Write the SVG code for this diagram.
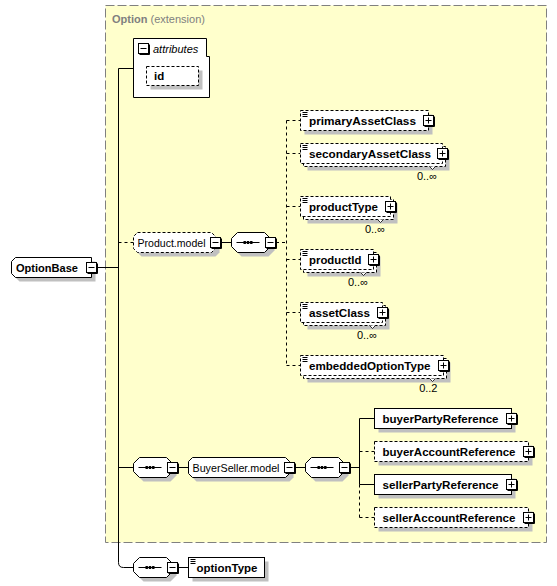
<svg xmlns="http://www.w3.org/2000/svg" xmlns:xlink="http://www.w3.org/1999/xlink" width="557" height="586" viewBox="0 0 557 586">
<style>
.sh{fill:#c0c0c0;stroke:none}
.box{fill:#fff;stroke:#000;stroke-width:1}
.dbox{fill:#fff;stroke:#000;stroke-width:1;stroke-dasharray:3,2}
.ln{fill:none;stroke:#000;stroke-width:1}
.dln{fill:none;stroke:#000;stroke-width:1;stroke-dasharray:3,3}
.b{font-family:"Liberation Sans",Arial,sans-serif;font-weight:bold;font-size:11.5px;fill:#000}
.r{font-family:"Liberation Sans",Arial,sans-serif;font-size:10.5px;fill:#000}
.occ{font-family:"Liberation Sans",Arial,sans-serif;font-size:11px;fill:#000;text-anchor:end}
</style>
<defs>
<g id="minus"><rect x="-5" y="-5" width="10" height="10" fill="#fff" stroke="#000"/><path d="M-4,6H6V-4" stroke="#000" fill="none"/><path d="M-3,0H3" stroke="#000"/></g>
<g id="plus"><rect x="-5" y="-5" width="10" height="10" fill="#fff" stroke="#000"/><path d="M-4,6H6V-4" stroke="#000" fill="none"/><path d="M-3,0H3M0,-3V3" stroke="#000"/></g>
<g id="seqicon"><path d="M0,0H23" stroke="#000"/><rect x="7" y="-1.5" width="2.4" height="3" fill="#000"/><rect x="10.3" y="-1.5" width="2.4" height="3" fill="#000"/><rect x="13.6" y="-1.5" width="2.4" height="3" fill="#000"/></g>
<path id="doc" d="M0,0.5H5M0,2.5H5M0,4.5H5" stroke="#000" fill="none"/>
<path id="tick" d="M-3,0L0,3L3,0" fill="#fff" stroke="#000" stroke-width="0.8"/>
</defs>

<g id="extension">
<rect x="105.5" y="5.5" width="441" height="537" fill="#ffffcc" stroke="#808080" stroke-dasharray="9,3"/>
<text x="112" y="23" font-family="Liberation Sans, Arial, sans-serif" font-size="11" fill="#808080"><tspan font-weight="bold">Option</tspan> (extension)</text>
</g>

<g id="connectors">
<path class="ln" d="M97,267.5H118.5"/>
<path class="ln" d="M133.5,68.5H118.5V562.5Q118.5,567.5 123.5,567.5H133.5"/>
<path class="dln" d="M118.5,242.5H133.5"/>
<path class="ln" d="M118.5,467.5H133.5"/>
<path class="ln" d="M221,242.5H231.5"/>
<path class="dln" d="M276,242.5H286.5"/>
<path class="dln" d="M286.5,120.5V365.5"/>
<path class="dln" d="M286.5,120.5H300.5M286.5,153.5H300.5M286.5,206.5H300.5M286.5,259.5H300.5M286.5,312.5H300.5M286.5,365.5H300.5"/>
<path class="ln" d="M178,467.5H188.5M295,467.5H305.5M350,467.5H359.5"/>
<path class="ln" d="M359.5,418.5V484.5M359.5,418.5H374.5M359.5,484.5H374.5"/>
<path class="dln" d="M359.5,484.5V517.5M359.5,451.5H374.5M359.5,517.5H374.5"/>
<path class="ln" d="M178,567.5H188.5"/>
</g>

<g id="attributes">
<path d="M133.5,38.5H206.5V56.5H209.5V97.5H133.5Z" fill="#fff" stroke="#000"/>
<use xlink:href="#minus" x="143.5" y="48.5"/>
<text x="153" y="52.5" font-family="Liberation Sans, Arial, sans-serif" font-size="11" font-style="italic">attributes</text>
<rect class="sh" x="150.5" y="70.5" width="52" height="19"/>
<rect class="dbox" x="146.5" y="66.5" width="52" height="19"/>
<text class="b" x="154" y="80">id</text>
</g>

<g id="OptionBase">
<path class="sh" d="M19.5,261.5H95.5V281.5H19.5L15.5,277.5V265.5Z"/>
<path class="box" d="M15.5,257.5H91.5V277.5H15.5L11.5,273.5V261.5Z"/>
<text class="b" x="16" y="271.5" textLength="62" lengthAdjust="spacingAndGlyphs">OptionBase</text>
<use xlink:href="#minus" x="91.5" y="267.5"/>
</g>

<g id="Product.model">
<path class="sh" d="M141.5,236.5H215.5L219.5,240.5V252.5L215.5,256.5H141.5L137.5,252.5V240.5Z"/>
<path class="dbox" d="M137.5,232.5H211.5L215.5,236.5V248.5L211.5,252.5H137.5L133.5,248.5V236.5Z"/>
<text class="r" x="137.5" y="246.5" textLength="68" lengthAdjust="spacingAndGlyphs">Product.model</text>
<use xlink:href="#minus" x="215.5" y="242.5"/>
</g>

<g id="product-sequence">
<path class="sh" d="M241.5,236.5H268.5L274.5,242.5V250.5L268.5,256.5H241.5L235.5,250.5V242.5Z"/>
<path class="box" d="M237.5,232.5H264.5L270.5,238.5V246.5L264.5,252.5H237.5L231.5,246.5V238.5Z"/>
<use xlink:href="#seqicon" x="236.5" y="242.5"/>
<use xlink:href="#minus" x="270.5" y="242.5"/>
</g>

<g id="primaryAssetClass">
<rect class="sh" x="304.5" y="114.5" width="128" height="20"/>
<rect class="dbox" x="300.5" y="110.5" width="128" height="20"/>
<use xlink:href="#doc" x="302.5" y="112"/>
<text class="b" x="309" y="124.5" textLength="107" lengthAdjust="spacingAndGlyphs">primaryAssetClass</text>
<use xlink:href="#plus" x="428.5" y="120.5"/>
</g>

<g id="secondaryAssetClass">
<rect class="sh" x="307.5" y="150.5" width="142" height="20"/>
<rect class="dbox" x="303.5" y="146.5" width="142" height="20"/>
<rect class="dbox" x="300.5" y="143.5" width="142" height="20"/>
<use xlink:href="#doc" x="302.5" y="145"/>
<text class="b" x="309" y="157.5" textLength="122" lengthAdjust="spacingAndGlyphs">secondaryAssetClass</text>
<use xlink:href="#plus" x="442.5" y="153.5"/>
<use xlink:href="#tick" x="432.5" y="166.5"/>
<text class="occ" x="437" y="180">0..∞</text>
</g>

<g id="productType">
<rect class="sh" x="307.5" y="203.5" width="90" height="20"/>
<rect class="dbox" x="303.5" y="199.5" width="90" height="20"/>
<rect class="dbox" x="300.5" y="196.5" width="90" height="20"/>
<use xlink:href="#doc" x="302.5" y="198"/>
<text class="b" x="309" y="210.5" textLength="69" lengthAdjust="spacingAndGlyphs">productType</text>
<use xlink:href="#plus" x="390.5" y="206.5"/>
<use xlink:href="#tick" x="380.5" y="219.5"/>
<text class="occ" x="385" y="233">0..∞</text>
</g>

<g id="productId">
<rect class="sh" x="307.5" y="256.5" width="73" height="20"/>
<rect class="dbox" x="303.5" y="252.5" width="73" height="20"/>
<rect class="dbox" x="300.5" y="249.5" width="73" height="20"/>
<use xlink:href="#doc" x="302.5" y="251"/>
<text class="b" x="309" y="263.5" textLength="52.5" lengthAdjust="spacingAndGlyphs">productId</text>
<use xlink:href="#plus" x="373.5" y="259.5"/>
<use xlink:href="#tick" x="363.5" y="272.5"/>
<text class="occ" x="368" y="286">0..∞</text>
</g>

<g id="assetClass">
<rect class="sh" x="307.5" y="309.5" width="82" height="20"/>
<rect class="dbox" x="303.5" y="305.5" width="82" height="20"/>
<rect class="dbox" x="300.5" y="302.5" width="82" height="20"/>
<use xlink:href="#doc" x="302.5" y="304"/>
<text class="b" x="309" y="316.5" textLength="61" lengthAdjust="spacingAndGlyphs">assetClass</text>
<use xlink:href="#plus" x="382.5" y="312.5"/>
<use xlink:href="#tick" x="372.5" y="325.5"/>
<text class="occ" x="377" y="339">0..∞</text>
</g>

<g id="embeddedOptionType">
<rect class="sh" x="307.5" y="362.5" width="143" height="20"/>
<rect class="dbox" x="303.5" y="358.5" width="143" height="20"/>
<rect class="dbox" x="300.5" y="355.5" width="143" height="20"/>
<use xlink:href="#doc" x="302.5" y="357"/>
<text class="b" x="309" y="369.5" textLength="121.5" lengthAdjust="spacingAndGlyphs">embeddedOptionType</text>
<use xlink:href="#plus" x="443.5" y="365.5"/>
<use xlink:href="#tick" x="432.5" y="378.5"/>
<text class="occ" x="437.5" y="392">0..2</text>
</g>

<g id="buyerseller-sequence">
<path class="sh" d="M143.5,461.5H170.5L176.5,467.5V475.5L170.5,481.5H143.5L137.5,475.5V467.5Z"/>
<path class="box" d="M139.5,457.5H166.5L172.5,463.5V471.5L166.5,477.5H139.5L133.5,471.5V463.5Z"/>
<use xlink:href="#seqicon" x="138.5" y="467.5"/>
<use xlink:href="#minus" x="172.5" y="467.5"/>
</g>

<g id="BuyerSeller.model">
<path class="sh" d="M196.5,461.5H289.5L293.5,465.5V477.5L289.5,481.5H196.5L192.5,477.5V465.5Z"/>
<path class="box" d="M192.5,457.5H285.5L289.5,461.5V473.5L285.5,477.5H192.5L188.5,473.5V461.5Z"/>
<text class="r" x="192.5" y="471.5" textLength="87" lengthAdjust="spacingAndGlyphs">BuyerSeller.model</text>
<use xlink:href="#minus" x="289.5" y="467.5"/>
</g>

<g id="buyerseller-inner-sequence">
<path class="sh" d="M315.5,461.5H342.5L348.5,467.5V475.5L342.5,481.5H315.5L309.5,475.5V467.5Z"/>
<path class="box" d="M311.5,457.5H338.5L344.5,463.5V471.5L338.5,477.5H311.5L305.5,471.5V463.5Z"/>
<use xlink:href="#seqicon" x="310.5" y="467.5"/>
<use xlink:href="#minus" x="344.5" y="467.5"/>
</g>

<g id="buyerPartyReference">
<rect class="sh" x="378.5" y="412.5" width="137" height="20"/>
<rect class="box" x="374.5" y="408.5" width="137" height="20"/>
<text class="b" x="382.5" y="422.5" textLength="116" lengthAdjust="spacingAndGlyphs">buyerPartyReference</text>
<use xlink:href="#plus" x="511.5" y="418.5"/>
</g>

<g id="buyerAccountReference">
<rect class="sh" x="378.5" y="445.5" width="154" height="20"/>
<rect class="dbox" x="374.5" y="441.5" width="154" height="20"/>
<text class="b" x="382.5" y="455.5" textLength="133" lengthAdjust="spacingAndGlyphs">buyerAccountReference</text>
<use xlink:href="#plus" x="528.5" y="451.5"/>
</g>

<g id="sellerPartyReference">
<rect class="sh" x="378.5" y="478.5" width="137" height="20"/>
<rect class="box" x="374.5" y="474.5" width="137" height="20"/>
<text class="b" x="382.5" y="488.5" textLength="116" lengthAdjust="spacingAndGlyphs">sellerPartyReference</text>
<use xlink:href="#plus" x="511.5" y="484.5"/>
</g>

<g id="sellerAccountReference">
<rect class="sh" x="378.5" y="511.5" width="154" height="20"/>
<rect class="dbox" x="374.5" y="507.5" width="154" height="20"/>
<text class="b" x="382.5" y="521.5" textLength="133" lengthAdjust="spacingAndGlyphs">sellerAccountReference</text>
<use xlink:href="#plus" x="528.5" y="517.5"/>
</g>

<g id="optiontype-sequence">
<path class="sh" d="M143.5,561.5H170.5L176.5,567.5V575.5L170.5,581.5H143.5L137.5,575.5V567.5Z"/>
<path class="box" d="M139.5,557.5H166.5L172.5,563.5V571.5L166.5,577.5H139.5L133.5,571.5V563.5Z"/>
<use xlink:href="#seqicon" x="138.5" y="567.5"/>
<use xlink:href="#minus" x="172.5" y="567.5"/>
</g>

<g id="optionType">
<rect class="sh" x="192.5" y="561.5" width="76" height="20"/>
<rect class="box" x="188.5" y="557.5" width="76" height="20"/>
<use xlink:href="#doc" x="190.5" y="559"/>
<text class="b" x="196.5" y="571.5" textLength="61" lengthAdjust="spacingAndGlyphs">optionType</text>
</g>
</svg>
